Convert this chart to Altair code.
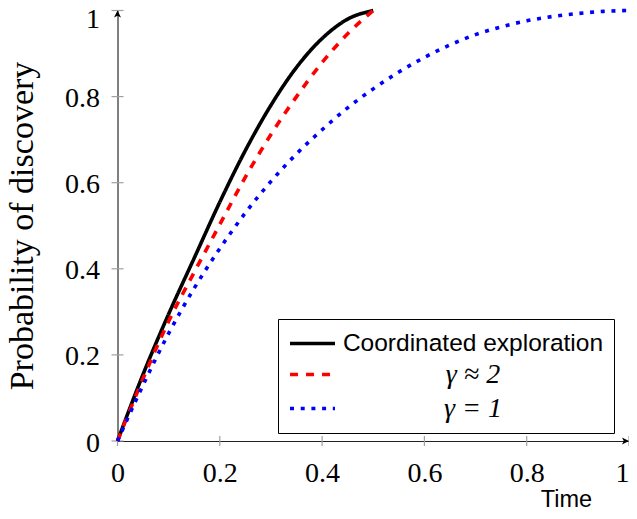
import altair as alt
import pandas as pd

# ---- data ----
t_short = [0.0, 0.05, 0.1, 0.15, 0.2, 0.25, 0.3, 0.35, 0.4, 0.45, 0.5]
coordinated = [0.0, 0.155, 0.295, 0.425, 0.555, 0.675, 0.78, 0.868, 0.935, 0.98, 1.0]
gamma_2 = [0.0, 0.145, 0.278, 0.392, 0.503, 0.613, 0.712, 0.800, 0.879, 0.946, 1.0]

t_long = [0.0, 0.05, 0.1, 0.15, 0.2, 0.25, 0.3, 0.35, 0.4, 0.45, 0.5,
          0.55, 0.6, 0.65, 0.7, 0.75, 0.8, 0.85, 0.9, 0.95, 1.0]
gamma_1 = [0.0, 0.13, 0.25, 0.355, 0.447, 0.53, 0.603, 0.667, 0.723, 0.774, 0.818,
           0.857, 0.891, 0.92, 0.944, 0.962, 0.976, 0.986, 0.993, 0.998, 1.0]

series_names = ["Coordinated exploration", "γ ≈ 2", "γ = 1"]
series_colors = ["#000000", "#ff0000", "#0000ff"]
series_dashes = [[1, 0], [8, 8], [4, 6.7]]

tick_values = [0, 0.2, 0.4, 0.6, 0.8, 1]
arrow_x = [0, 1]
arrow_y = [1, 0]
arrow_angle = [0, 90]

rows = []
for t, v in zip(t_short, coordinated):
    rows.append({"t": t, "p": v, "series": series_names[0]})
for t, v in zip(t_short, gamma_2):
    rows.append({"t": t, "p": v, "series": series_names[1]})
for t, v in zip(t_long, gamma_1):
    rows.append({"t": t, "p": v, "series": series_names[2]})
df = pd.DataFrame(rows)

W, H = 511.5, 430.5

xs = alt.Scale(domain=[0, 1], nice=False)
ys = alt.Scale(domain=[0, 1], nice=False)

x_axis = alt.Axis(
    values=tick_values, format=".1~f", ticks=False, grid=False,
    labelFont="Liberation Serif", labelFontSize=28, labelColor="black",
    labelPadding=18, labelFlush=False, labelOverlap=False,
    labelAlign={"condition": {"test": "datum.value == 1", "value": "right"}, "value": "center"},
    domainColor="#222222", domainWidth=1,
    title="Time", titleFont="Liberation Sans", titleFontSize=23.5,
    titleFontWeight="normal", titleColor="black",
    titleX=448.5, titleY=65.5, titleAlign="center", titleBaseline="alphabetic",
)
y_axis = alt.Axis(
    values=tick_values, format=".1~f", ticks=False, grid=False,
    labelFont="Liberation Serif", labelFontSize=28, labelColor="black",
    labelPadding=18, labelFlush=False, labelOverlap=False,
    labelOffset={"condition": {"test": "datum.value == 1", "value": 8.5}, "value": 2},
    domainColor="black", domainWidth=1,
    title="Probability of discovery", titleFont="Liberation Serif",
    titleFontSize=34, titleFontWeight="normal", titleColor="black",
    titleX=-85.2, titleY=215, titleAlign="center", titleBaseline="alphabetic",
)

is_first = "datum.label == 'Coordinated exploration'"
legend = alt.Legend(
    title=None, orient="none", legendX=160.5, legendY=308.5,
    padding=10, rowPadding=5, fillColor="white", strokeColor="black",
    cornerRadius=0, symbolType="M-1,0H2.6", symbolSize=625, symbolStrokeWidth=3.6,
    labelFont=alt.ExprRef(expr=is_first + " ? 'Liberation Sans' : 'Liberation Serif'"),
    labelFontSize=alt.ExprRef(expr=is_first + " ? 24.5 : 28"),
    labelFontStyle=alt.ExprRef(expr=is_first + " ? 'normal' : 'italic'"),
    labelColor="black", labelAlign="center",
    labelOffset=156, labelLimit=400,
)

lines = alt.Chart(df).mark_line(strokeWidth=3.6, interpolate="monotone", strokeCap="butt").encode(
    x=alt.X("t:Q", scale=xs, axis=x_axis),
    y=alt.Y("p:Q", scale=ys, axis=y_axis),
    color=alt.Color("series:N", scale=alt.Scale(domain=series_names, range=series_colors), legend=legend),
    strokeDash=alt.StrokeDash("series:N", scale=alt.Scale(domain=series_names, range=series_dashes), legend=legend),
)

ticks_df = pd.DataFrame({"v": tick_values})
y_ticks = alt.Chart(ticks_df).mark_rule(color="#a0a0a0", strokeWidth=1.2).encode(
    y=alt.Y("v:Q", scale=ys, axis=y_axis),
    x=alt.value(-6), x2=alt.value(6),
)
x_ticks = alt.Chart(ticks_df).mark_rule(color="#a0a0a0", strokeWidth=1.2).encode(
    x=alt.X("v:Q", scale=xs, axis=x_axis),
    y=alt.value(H - 5), y2=alt.value(H + 5),
)

arrows_df = pd.DataFrame({"ax": arrow_x, "ay": arrow_y, "ang": arrow_angle})
arrows = alt.Chart(arrows_df).mark_point(
    shape="M0,0L1,2L0,1.5L-1,2Z", filled=True, size=49, color="black", opacity=1
).encode(
    x=alt.X("ax:Q", scale=xs, axis=x_axis),
    y=alt.Y("ay:Q", scale=ys, axis=y_axis),
    angle=alt.Angle("ang:Q", scale=None),
)

chart = alt.layer(y_ticks, x_ticks, lines, arrows).properties(
    width=W, height=H,
    autosize=alt.AutoSizeParams(type="none"),
    padding={"left": 109.5, "top": 2.5, "right": 0, "bottom": 70},
    background="white",
).configure_view(strokeWidth=0)

chart.save("out.html", embed_options={"renderer": "svg", "actions": False})
